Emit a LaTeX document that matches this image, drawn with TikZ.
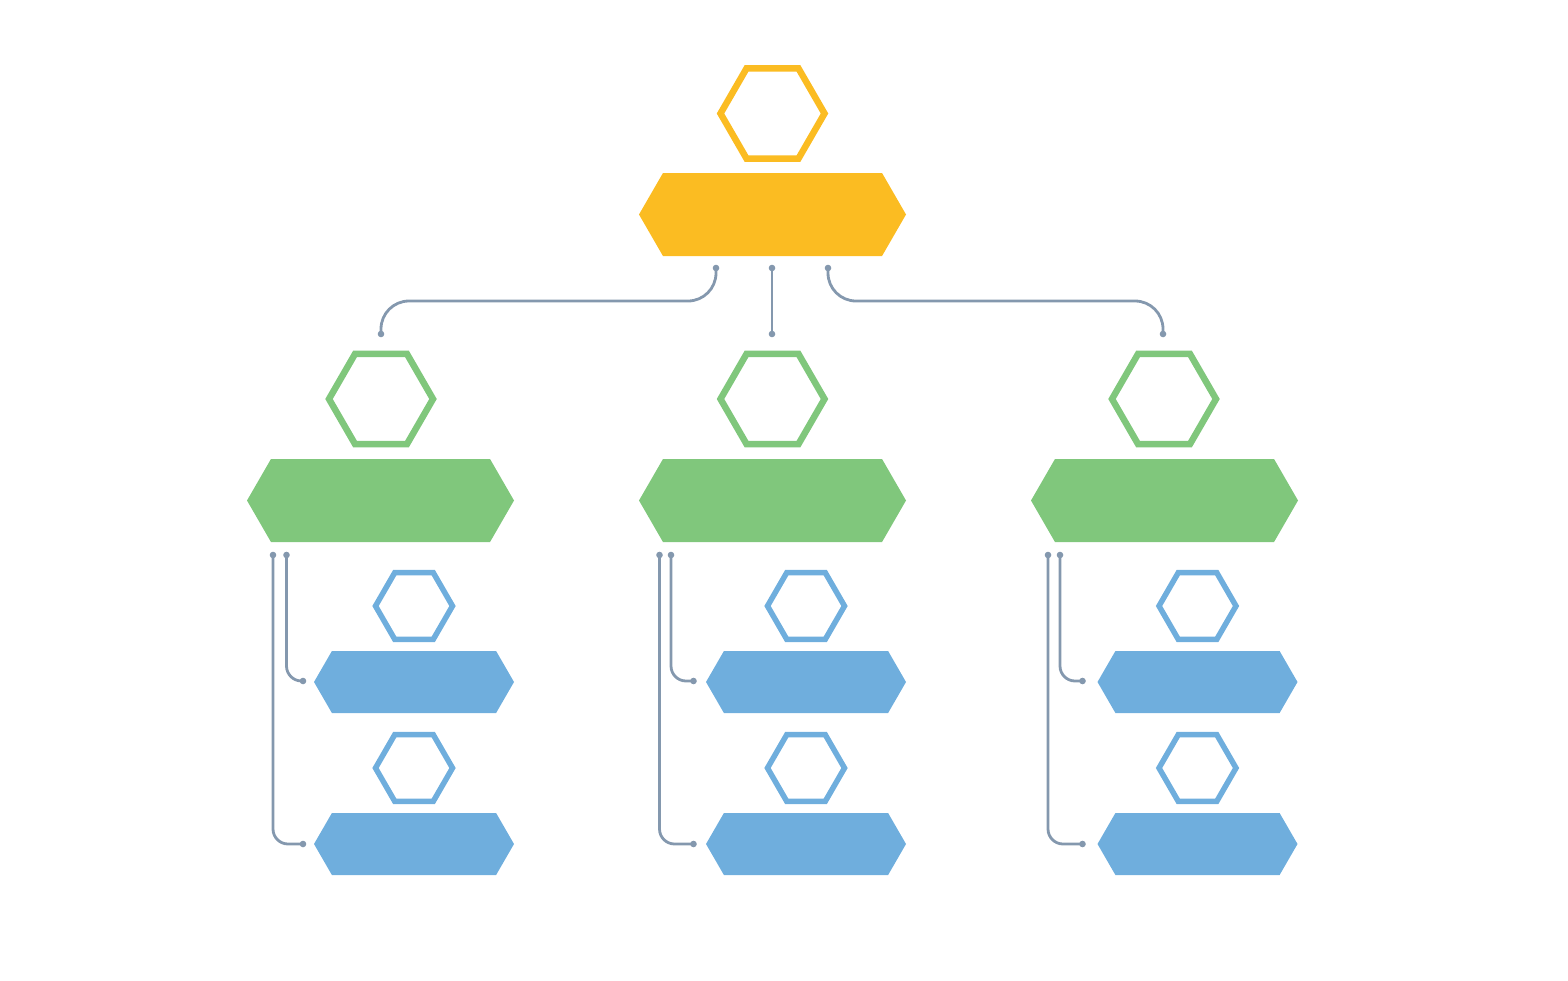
\documentclass[tikz,border=0pt]{standalone}
\definecolor{cOrange}{HTML}{FBBC22}
\definecolor{cGreen}{HTML}{80C77C}
\definecolor{cBlue}{HTML}{6FAEDD}
\definecolor{cLink}{HTML}{8498AE}
\tikzset{
  link/.style={draw=cLink, line width=2.8pt, rounded corners=#1},
  link/.default=15pt,
  enddot/.style={fill=cLink},
}
\newcommand\hexo[5]{% x y r color stroke
  \draw[#4, line width=#5pt, line join=miter] (#1,#2) +(0:#3) -- +(60:#3) -- +(120:#3) -- +(180:#3) -- +(240:#3) -- +(300:#3) -- cycle;}
\newcommand\bannerf[5]{% cx cy halfw halfh color
  \fill[#5] (#1-#3,#2) -- (#1-#3+#4*0.5774,#2-#4) -- (#1+#3-#4*0.5774,#2-#4) -- (#1+#3,#2) -- (#1+#3-#4*0.5774,#2+#4) -- (#1-#3+#4*0.5774,#2+#4) -- cycle;}
\begin{document}
\begin{tikzpicture}[x=1pt,y=-1pt]
\useasboundingbox (0,0) rectangle (1568,980);
% top
\hexo{772.5}{113.5}{52}{cOrange}{6.5}
\bannerf{772.5}{214.5}{133.5}{41.5}{cOrange}
% green level
\foreach \cx/\hx in {380.5/381, 772.5/772.5, 1164.5/1164}{
  \hexo{\hx}{399}{52}{cGreen}{6.5}
  \bannerf{\cx}{500.5}{133.5}{41.5}{cGreen}
}
% blue level
\foreach \cx in {414, 806, 1197.5}{
  \hexo{\cx}{606}{38.5}{cBlue}{5.5}
  \bannerf{\cx}{682}{100}{31}{cBlue}
  \hexo{\cx}{768}{38.5}{cBlue}{5.5}
  \bannerf{\cx}{844}{100}{31}{cBlue}
}
% connector end points
\coordinate (tL) at (716,268);
\coordinate (tM) at (772,268);
\coordinate (tR) at (828,268);
\coordinate (gL) at (381,334);
\coordinate (gM) at (772,334);
\coordinate (gR) at (1163,334);
\draw[link=28pt] (tL) |- (548,301) -| (gL);
\draw[link=28pt] (tM) -- (gM);
\draw[link=28pt] (tR) |- (995,301) -| (gR);
\foreach \p in {tL,tM,tR,gL,gM,gR}{\fill[enddot] (\p) circle (3.3);}
% column connectors
\foreach \n/\xo/\xi/\xe in {a/273/286.5/303, b/659.5/671/693.5, c/1048/1060/1082.5}{
  \coordinate (\n o) at (\xo,555);
  \coordinate (\n i) at (\xi,555);
  \coordinate (\n e1) at (\xe,681);
  \coordinate (\n e2) at (\xe,844);
  \draw[link] (\n i) |- (\n e1);
  \draw[link] (\n o) |- (\n e2);
  \foreach \p in {\n o,\n i,\n e1,\n e2}{\fill[enddot] (\p) circle (3.3);}
}
\end{tikzpicture}
\end{document}
